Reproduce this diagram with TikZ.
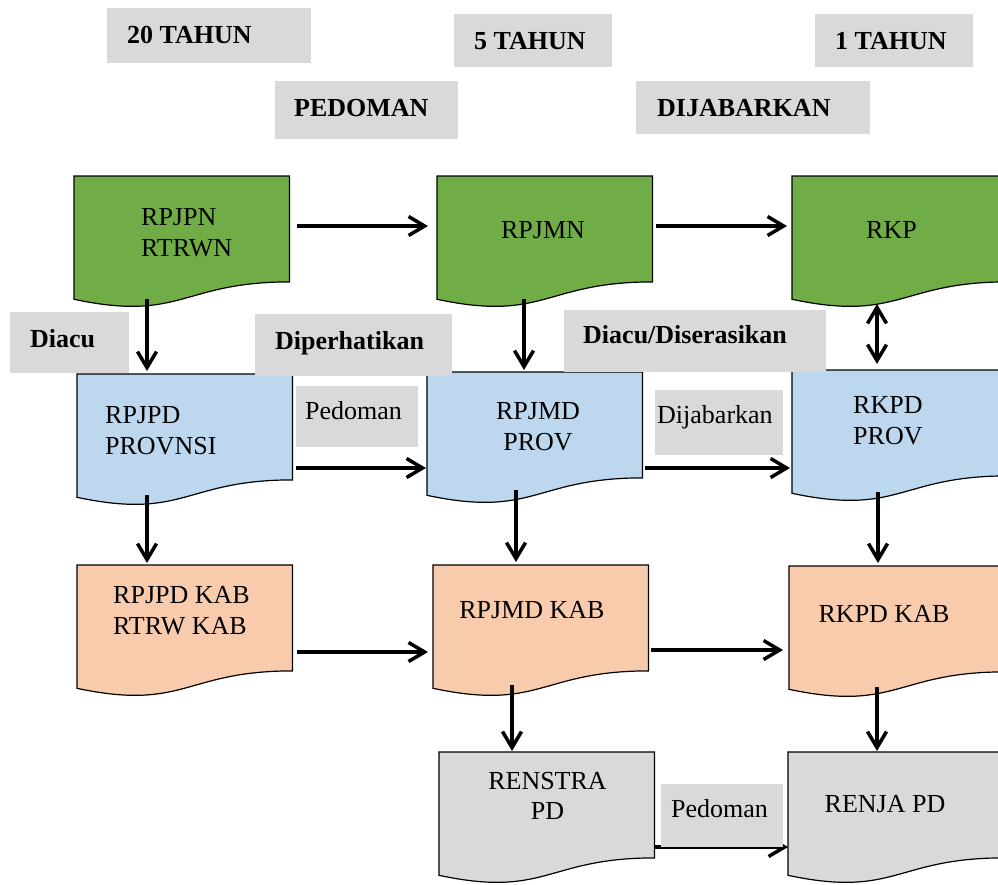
\documentclass[tikz,border=0pt]{standalone}
\usepackage{fontspec}
\setmainfont{Liberation Serif}
\usetikzlibrary{arrows.meta,calc}
\definecolor{cgreen}{HTML}{70AD47}
\definecolor{cblue}{HTML}{BDD7EE}
\definecolor{corange}{HTML}{F8CBAD}
\definecolor{cgray}{HTML}{D9D9D9}
\tikzset{
  docbox/.style={draw=none, inner sep=0pt, minimum width=215pt, minimum height=132pt, anchor=north west},
  docline/.style={draw=black, line width=1.2pt, line join=miter},
  txt/.style={font=\fontsize{26}{30.5}\selectfont, inner sep=0pt},
  btxt/.style={font=\fontsize{26}{30.5}\selectfont\bfseries, inner sep=0pt, anchor=base west},
  rtxt/.style={font=\fontsize{26}{30.5}\selectfont, inner sep=0pt, anchor=base west},
  lblbox/.style={fill=cgray, draw=none, inner sep=0pt},
  arr/.style={line width=3.5pt, -{Straight Barb[length=16pt,width=19pt]}},
  darr/.style={line width=3.5pt, {Straight Barb[length=16pt,width=19pt]}-{Straight Barb[length=16pt,width=19pt]}}
}
\newcommand{\docshape}[4]{%
  \node[docbox] (#1) at (#2,#3) {};
  \filldraw[docline, fill=#4] (#1.north west) -- (#1.north east)
    -- ($(#1.north east)+(0,105.9)$)
    .. controls ($(#1.north)+(0,105.9)$) and ($(#1.north)+(0,146.2)$) ..
    ($(#1.north west)+(0,123.3)$) -- cycle;
}
\begin{document}
\begin{tikzpicture}[x=1pt,y=-1pt]
\useasboundingbox (0,0) rectangle (998,884);
\clip (0,0) rectangle (998,884);

% shapes
\docshape{rpjpn}{74}{176}{cgreen}
\docshape{rpjmn}{437}{176}{cgreen}
\docshape{rkp}{792}{176}{cgreen}
\docshape{rpjpdprov}{77}{374}{cblue}
\docshape{rpjmdprov}{427}{372}{cblue}
\docshape{rkpdprov}{792}{370}{cblue}
\docshape{rpjpdkab}{77}{565}{corange}
\docshape{rpjmdkab}{433}{565}{corange}
\docshape{rkpdkab}{789}{566}{corange}
\docshape{renstra}{439}{752}{cgray}
\docshape{renja}{788}{752}{cgray}

% shape texts
\node[txt, align=left, anchor=west] (t-rpjpn) at (141,232.5) {RPJPN\\RTRWN};
\node[txt, anchor=base] (t-rpjmn) at (543,238) {RPJMN};
\node[txt, anchor=base] (t-rkp) at (891.5,238) {RKP};
\node[txt, align=left, anchor=west] (t-rpjpdprov) at (105,430.5) {RPJPD\\PROVNSI};
\node[txt, align=center] (t-rpjmdprov) at (538,426.5) {RPJMD\\PROV};
\node[txt, align=left, anchor=west] (t-rkpdprov) at (853,420.5) {RKPD\\PROV};
\node[txt, align=left, anchor=west] (t-rpjpdkab) at (113,610.5) {RPJPD KAB\\RTRW KAB};
\node[txt, anchor=base] (t-rpjmdkab) at (532,618) {RPJMD KAB};
\node[txt, anchor=base] (t-rkpdkab) at (884,622) {RKPD KAB};
\node[txt, align=center] (t-renstra) at (547.5,796) {RENSTRA\\PD};
\node[txt, anchor=base] (t-renja) at (885,812) {RENJA PD};

% arrows
\draw[arr] ($(rpjpn.north east)+(8,50)$) -- ($(rpjmn.north west)+(-9,50)$);
\draw[arr] ($(rpjmn.north east)+(4,50)$) -- ($(rkp.north west)+(-5,50)$);
\draw[arr] ($(rpjpn.north west)+(73,123)$) -- ($(rpjpdprov.north west)+(70,-3)$);
\draw[arr] ($(rpjmn.north west)+(87,123)$) -- ($(rpjmdprov.north west)+(97,-2)$);
\draw[darr] ($(rkp.north west)+(85,128)$) -- ($(rkpdprov.north west)+(85,-6)$);
\draw[arr] ($(rpjpdprov.north east)+(4,94)$) -- ($(rpjmdprov.north west)+(-1,96)$);
\draw[arr] ($(rpjmdprov.north east)+(3,96)$) -- ($(rkpdprov.north west)+(-2,98)$);
\draw[arr] ($(rpjpdprov.north west)+(70,121)$) -- ($(rpjpdkab.north west)+(70,-2)$);
\draw[arr] ($(rpjmdprov.north west)+(89,118)$) -- ($(rpjmdkab.north west)+(83,-3)$);
\draw[arr] ($(rkpdprov.north west)+(86,122)$) -- ($(rkpdkab.north west)+(89,-3)$);
\draw[arr] ($(rpjpdkab.north east)+(5,87)$) -- ($(rpjmdkab.north west)+(-5,87)$);
\draw[arr] ($(rpjmdkab.north east)+(3,85)$) -- ($(rkpdkab.north west)+(-6,84)$);
\draw[arr] ($(rpjmdkab.north west)+(79,120)$) -- ($(renstra.north west)+(73,-1)$);
\draw[arr] ($(rkpdkab.north west)+(88,121)$) -- ($(renja.north west)+(89,-1)$);
\draw[arr] ($(renstra.north east)+(0,95)$) -- ($(renja.north west)+(0,95)$);

% label boxes
\node[lblbox, minimum width=204pt, minimum height=55pt] (b-20) at (209,35.5) {};
\node[lblbox, minimum width=158pt, minimum height=53pt] (b-5) at (533,40.5) {};
\node[lblbox, minimum width=158pt, minimum height=53pt] (b-1) at (894,40.5) {};
\node[lblbox, minimum width=183pt, minimum height=58pt] (b-pedoman) at (366.5,110) {};
\node[lblbox, minimum width=234pt, minimum height=53pt] (b-dijabarkan) at (753,107.5) {};
\node[lblbox, minimum width=119pt, minimum height=61pt] (b-diacu) at (69.5,342.5) {};
\node[lblbox, minimum width=197pt, minimum height=62pt] (b-diperhatikan) at (353.5,345) {};
\node[lblbox, minimum width=262pt, minimum height=62pt] (b-diserasikan) at (695,341) {};
\node[lblbox, minimum width=122pt, minimum height=61pt] (b-ped1) at (357,416.5) {};
\node[lblbox, minimum width=128pt, minimum height=65pt] (b-dij1) at (719,422.5) {};
\node[lblbox, minimum width=122pt, minimum height=63pt] (b-ped2) at (722,815.5) {};

% label texts
\node[btxt] (l-20) at (127,43) {20 TAHUN};
\node[btxt] (l-5) at (474,49) {5 TAHUN};
\node[btxt] (l-1) at (835,49) {1 TAHUN};
\node[btxt] (l-pedoman) at (294,116) {PEDOMAN};
\node[btxt] (l-dijabarkan) at (657,116) {DIJABARKAN};
\node[btxt] (l-diacu) at (30,347) {Diacu};
\node[btxt] (l-diperhatikan) at (275,349) {Diperhatikan};
\node[btxt] (l-diserasikan) at (583,343) {Diacu/Diserasikan};
\node[rtxt] (l-ped1) at (305,419) {Pedoman};
\node[rtxt] (l-dij1) at (657,423) {Dijabarkan};
\node[rtxt] (l-ped2) at (671,817) {Pedoman};
\end{tikzpicture}
\end{document}
